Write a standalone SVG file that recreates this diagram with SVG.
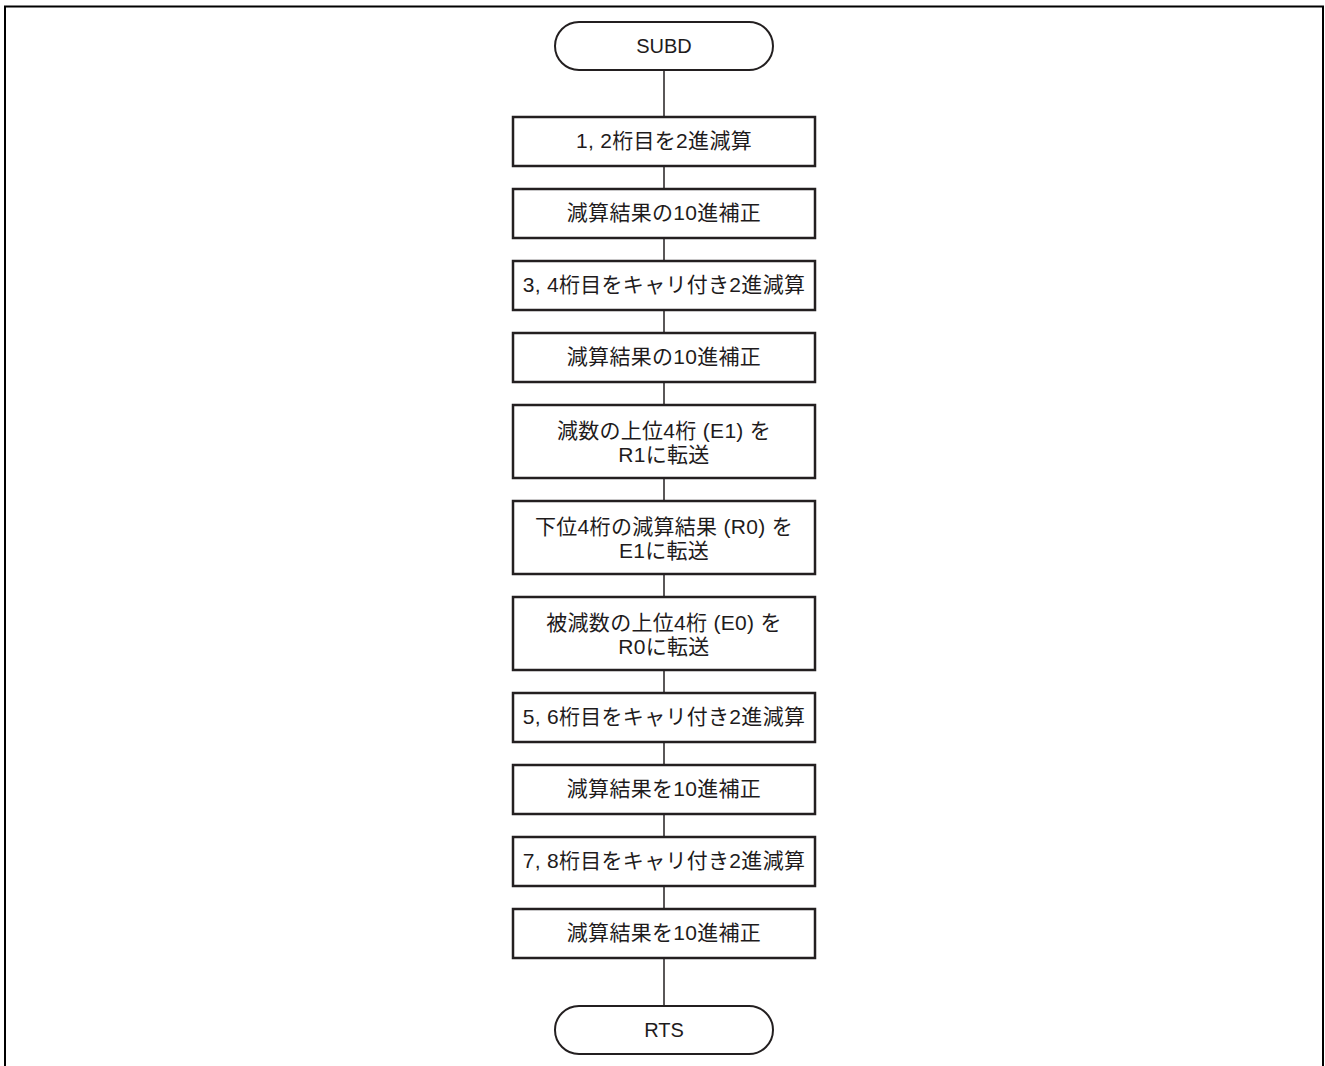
<svg xmlns="http://www.w3.org/2000/svg" width="1325" height="1066" viewBox="0 0 1325 1066">
<style>
.frame{fill:none;stroke:#000;stroke-width:2}
.box{fill:#fff;stroke:#231f20;stroke-width:2.5}
.term{fill:#fff;stroke:#231f20;stroke-width:2}
.conn{stroke:#231f20;stroke-width:1.5;fill:none}
text{font-family:"Liberation Sans","Noto Sans CJK JP",sans-serif;font-size:20px;fill:#1e1b1c;text-anchor:middle}
.j{font-size:21px;letter-spacing:0.3px}
</style>
<rect width="1325" height="1066" fill="#fff"/>
<rect class="frame" x="5" y="6.5" width="1318" height="1080"/>
<g id="connectors">
<line class="conn" x1="664" y1="70" x2="664" y2="1005"/>
</g>
<g id="n0"><rect class="term" x="555" y="22" width="218" height="48" rx="24"/><text x="664" y="53">SUBD</text></g>
<g id="n1"><rect class="box" x="513" y="117" width="302" height="49"/><text class="j" x="664" y="148">1, 2桁目を2進減算</text></g>
<g id="n2"><rect class="box" x="513" y="189" width="302" height="49"/><text class="j" x="664" y="220">減算結果の10進補正</text></g>
<g id="n3"><rect class="box" x="513" y="261" width="302" height="49"/><text class="j" x="664" y="292">3, 4桁目をキャリ付き2進減算</text></g>
<g id="n4"><rect class="box" x="513" y="333" width="302" height="49"/><text class="j" x="664" y="364">減算結果の10進補正</text></g>
<g id="n5"><rect class="box" x="513" y="405" width="302" height="73"/><text class="j" x="664" y="438">減数の上位4桁 (E1) を</text><text class="j" x="664" y="462">R1に転送</text></g>
<g id="n6"><rect class="box" x="513" y="501" width="302" height="73"/><text class="j" x="664" y="534">下位4桁の減算結果 (R0) を</text><text class="j" x="664" y="558">E1に転送</text></g>
<g id="n7"><rect class="box" x="513" y="597" width="302" height="73"/><text class="j" x="664" y="630">被減数の上位4桁 (E0) を</text><text class="j" x="664" y="654">R0に転送</text></g>
<g id="n8"><rect class="box" x="513" y="693" width="302" height="49"/><text class="j" x="664" y="724">5, 6桁目をキャリ付き2進減算</text></g>
<g id="n9"><rect class="box" x="513" y="765" width="302" height="49"/><text class="j" x="664" y="796">減算結果を10進補正</text></g>
<g id="n10"><rect class="box" x="513" y="837" width="302" height="49"/><text class="j" x="664" y="868">7, 8桁目をキャリ付き2進減算</text></g>
<g id="n11"><rect class="box" x="513" y="909" width="302" height="49"/><text class="j" x="664" y="940">減算結果を10進補正</text></g>
<g id="n12"><rect class="term" x="555" y="1006" width="218" height="48" rx="24"/><text x="664" y="1037">RTS</text></g>
</svg>
